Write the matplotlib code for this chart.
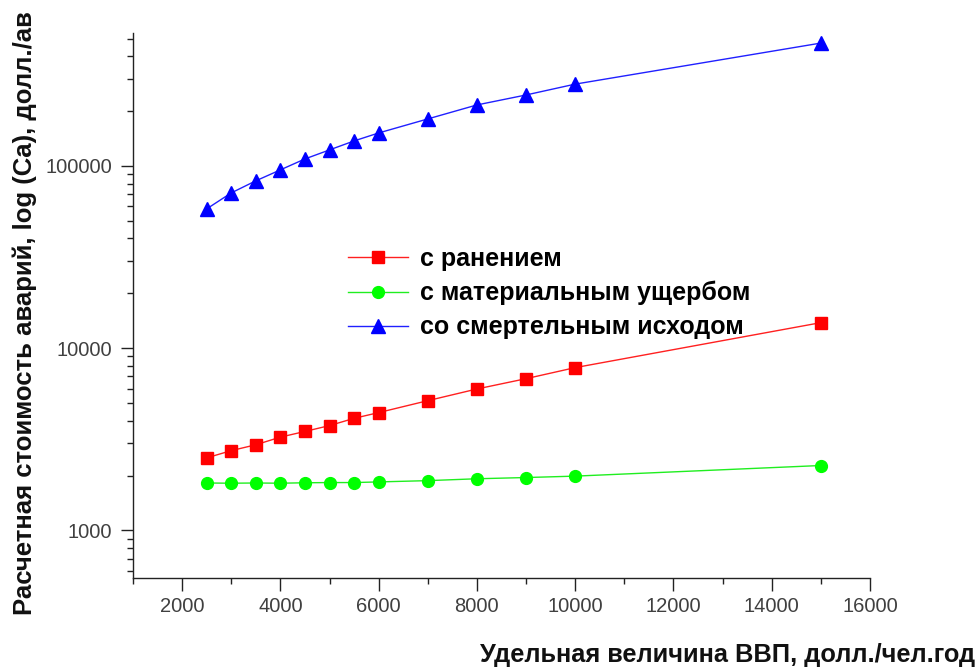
import matplotlib
matplotlib.use("Agg")
import matplotlib.pyplot as plt
from matplotlib.ticker import LogLocator, FixedLocator, NullFormatter, MultipleLocator

plt.rcParams['font.family'] = ['Liberation Sans', 'DejaVu Sans']

gdp = [2500, 3000, 3500, 4000, 4500, 5000, 5500, 6000, 7000, 8000, 9000, 10000, 15000]
injury = [2500, 2740, 2950, 3250, 3490, 3760, 4120, 4430, 5150, 5970, 6800, 7820, 13800]
material = [1820, 1815, 1820, 1815, 1825, 1830, 1830, 1845, 1875, 1920, 1950, 1985, 2270]
fatal = [58100, 71100, 82800, 95100, 109200, 122400, 137100, 151600, 181000, 216000, 245000, 281000, 472000]

labels = ['с ранением', 'с материальным ущербом', 'со смертельным исходом']
xticks = [2000, 4000, 6000, 8000, 10000, 12000, 14000, 16000]
yticks = [1000, 10000, 100000]

fig = plt.figure(figsize=(9.77, 6.67), dpi=100)
ax = fig.add_axes([133/977, 1-578/667, (870-133)/977, (578-33)/667])

ax.plot(gdp, injury, color='#ff2020', lw=1.0, marker='s', ms=8, mfc='#ff0000', mec='#ff0000', label=labels[0])
ax.plot(gdp, material, color='#20ee20', lw=1.0, marker='o', ms=8.5, mfc='#00ff00', mec='#00ff00', label=labels[1])
ax.plot(gdp, fatal, color='#2020ff', lw=1.0, marker='^', ms=10, mfc='#0000ff', mec='#0000ff', label=labels[2])

ax.set_yscale('log')
ax.set_xlim(1000, 16000)
ax.set_ylim(548, 536000)
ax.xaxis.set_major_locator(FixedLocator(xticks))
ax.xaxis.set_minor_locator(MultipleLocator(1000))
ax.yaxis.set_major_locator(FixedLocator(yticks))
ax.yaxis.set_minor_locator(LogLocator(base=10, subs=[2, 3, 4, 5, 6, 7, 8, 9]))
ax.yaxis.set_minor_formatter(NullFormatter())
ax.set_xticklabels([str(v) for v in xticks])
ax.set_yticklabels([str(v) for v in yticks])

for s in ['top', 'right']:
    ax.spines[s].set_visible(False)
for s in ['left', 'bottom']:
    ax.spines[s].set_color('#222222')
    ax.spines[s].set_linewidth(1.0)

ax.tick_params(which='major', direction='out', length=9, width=1, color='#222222',
               labelsize=14.5, labelcolor='#404040')
ax.tick_params(axis='y', which='major', pad=6)
ax.tick_params(axis='x', which='major', pad=5)
ax.tick_params(which='minor', direction='out', length=4, width=1, color='#222222')

leg = ax.legend(loc='upper left', bbox_to_anchor=(348/977, 1-247/667), bbox_transform=fig.transFigure,
                frameon=False, fontsize=18, handlelength=2.4, handletextpad=0.5, labelspacing=0.4,
                borderpad=0, borderaxespad=0)
for t in leg.get_texts():
    t.set_fontweight('bold')

fig.text(25/977, 1-615/667, 'Расчетная стоимость аварий, log (Ca), долл./ав', rotation=90,
         ha='center', va='bottom', fontsize=18.5, fontweight='bold', color='#111111')
fig.text(975/977, 1-655/667, 'Удельная величина ВВП, долл./чел.год', ha='right', va='center',
         fontsize=18.3, fontweight='bold', color='#111111')

fig.savefig('out.png', dpi=100)
